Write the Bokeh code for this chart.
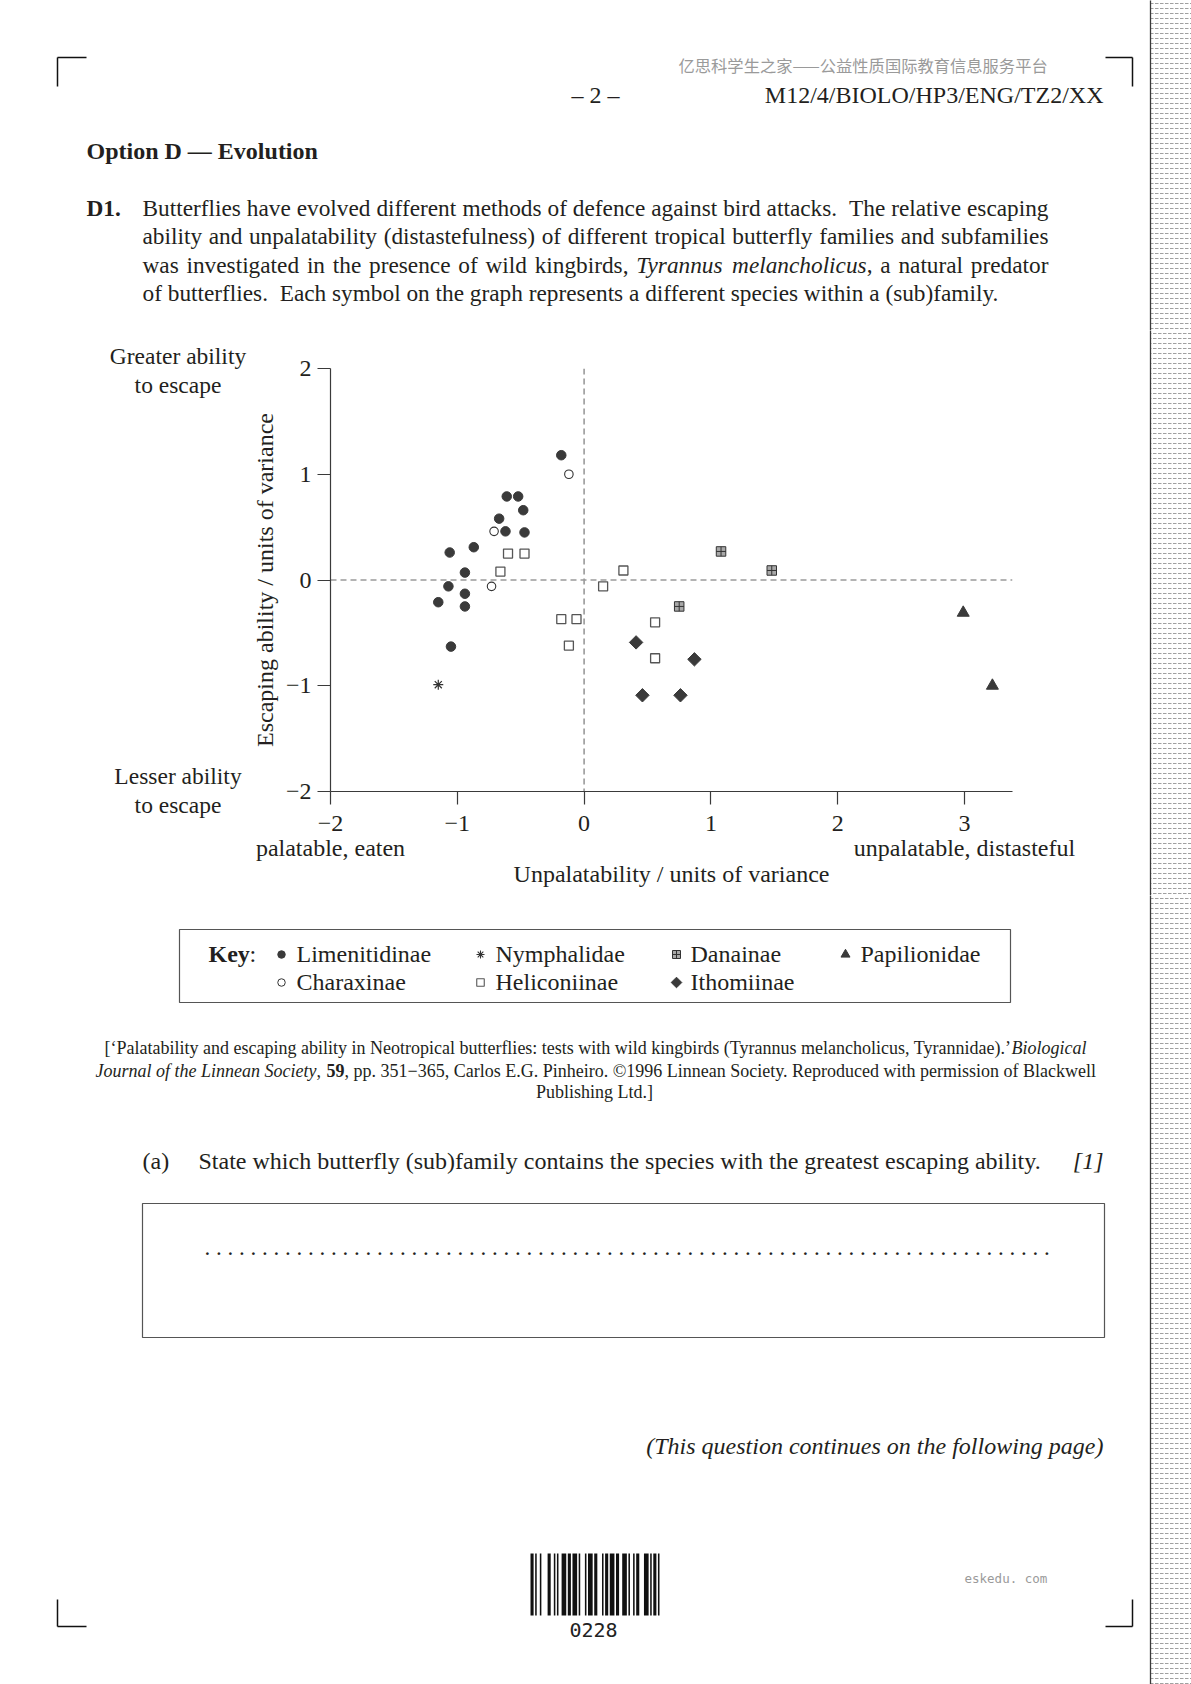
import math
from bokeh.plotting import figure
from bokeh.layouts import column, row
from bokeh.models import Span, FixedTicker, LinearAxis, Range1d
from bokeh.core.properties import value
from bokeh.embed import file_html
from bokeh.resources import INLINE

# ---------------- data ----------------
lim_x = [-0.18, -0.61, -0.52, -0.48, -0.67, -0.62, -0.47, -0.87, -1.06, -0.94, -1.07, -0.94, -1.15, -0.94, -1.05]
lim_y = [1.18, 0.79, 0.79, 0.66, 0.58, 0.46, 0.45, 0.31, 0.26, 0.07, -0.06, -0.13, -0.21, -0.25, -0.63]
cha_x = [-0.12, -0.71, -0.73]
cha_y = [1.00, 0.46, -0.06]
hel_x = [-0.60, -0.47, -0.66, 0.31, 0.15, -0.18, -0.06, -0.12, 0.56, 0.56]
hel_y = [0.25, 0.25, 0.08, 0.09, -0.06, -0.37, -0.37, -0.62, -0.40, -0.74]
nym_x = [-1.15]
nym_y = [-0.99]
dan_x = [1.08, 1.48, 0.75]
dan_y = [0.27, 0.09, -0.25]
ith_x = [0.41, 0.87, 0.46, 0.76]
ith_y = [-0.59, -0.75, -1.09, -1.09]
pap_x = [2.99, 3.22]
pap_y = [-0.31, -1.00]

x_ticks = [-2, -1, 0, 1, 2, 3]
y_ticks = [-2, -1, 0, 1, 2]
tick_text = {-2: "\u22122", -1: "\u22121"}
x_end_ticks = [-2, 3]
x_end_text = {-2: "palatable, eaten", 3: "unpalatable, distasteful"}
x_title = "Unpalatability / units of variance"
y_title = "Escaping ability / units of variance"
y_end_text = [("Greater ability", "to escape"), ("Lesser ability", "to escape")]

key_row1 = ["Limenitidinae", "Nymphalidae", "Danainae", "Papilionidae"]
key_row2 = ["Charaxinae", "Heliconiinae", "Ithomiinae"]

# ---------------- page geometry (page px == canvas px) ----------------
PW, PH = 1191, 1684
TOP_H = 330            # top block: y 0..330
MID_H = 565            # middle row: y 330..895
BOT_H = PH - TOP_H - MID_H
LEFT_W = 247
RIGHT_W = 43
PLOT_W = PW - LEFT_W - RIGHT_W

INK = "#231f20"
SERIF = "Liberation Serif"
DARK = "#3a3a3a"
FS = 24      # general text size
PS = 23.3    # paragraph text size
NB = "\u00a0 "  # double space after full stop

# Times-compatible advance widths (em) used to justify the stem lines
RG = {' ': .25, 'a': .444, 'b': .5, 'c': .444, 'd': .5, 'e': .444, 'f': .333, 'g': .5, 'h': .5,
      'i': .278, 'j': .278, 'k': .5, 'l': .278, 'm': .778, 'n': .5, 'o': .5, 'p': .5, 'q': .5,
      'r': .333, 's': .389, 't': .278, 'u': .5, 'v': .5, 'w': .722, 'x': .5, 'y': .5, 'z': .444,
      '.': .25, ',': .25, '(': .333, ')': .333, 'B': .667, 'T': .611, 'D': .722, 'E': .611}
IT = {' ': .25, 'a': .5, 'b': .5, 'c': .444, 'd': .5, 'e': .444, 'f': .278, 'g': .5, 'h': .5,
      'i': .278, 'k': .444, 'l': .278, 'm': .722, 'n': .5, 'o': .5, 'p': .5, 'r': .389, 's': .389,
      't': .278, 'u': .5, 'y': .444, 'T': .556, ',': .25}


def canvas(x0, x1, y0, y1):
    f = figure(width=x1 - x0, height=y1 - y0, x_range=Range1d(x0, x1), y_range=Range1d(y1, y0),
               output_backend="svg", toolbar_location=None, min_border=0,
               x_axis_type=None, y_axis_type=None, frame_align=False,
               background_fill_color="white", border_fill_color="white")
    f.outline_line_color = None
    return f


def txt(f, X, Y, s, size=FS, style="normal", align="left", baseline="middle", color=INK,
        font=SERIF, angle=0.0):
    f.text(x=[X], y=[Y], text=[s], text_font=value(font), text_font_size=value(f"{size}px"),
           text_font_style=style, text_align=align, text_baseline=baseline, text_color=color,
           angle=angle)


def word_width(s, style, size):
    table = IT if style == "italic" else RG
    return sum(table.get(c, 0.5) for c in s) * size


def tokens(s, style="normal"):
    out, gap = [], 0
    for part in s.split(" "):
        if part == "":
            gap += 1
            continue
        out.append((part, style, gap + 1 if out else 0))
        gap = 0
    return out


def justify(f, Y, toks, x0, x1, size=PS):
    widths = [word_width(t, st, size) for t, st, g in toks]
    weights = [g for t, st, g in toks[1:]]
    natural = sum(widths) + sum(weights) * 0.25 * size
    extra = (x1 - x0 - natural) / max(sum(weights), 1)
    x = x0
    for k, (t, st, g) in enumerate(toks):
        if k > 0:
            x += g * (0.25 * size + extra)
        txt(f, x, Y, t, size=size, style=st)
        x += widths[k]


def seg(f, X1, Y1, X2, Y2, lw=1.5, color="#111111"):
    f.segment(x0=[X1], y0=[Y1], x1=[X2], y1=[Y2], line_color=color, line_width=lw)


def rect_outline(f, X1, Y1, X2, Y2, lw=1.2, color="#555555"):
    f.quad(left=[X1], right=[X2], top=[Y1], bottom=[Y2], fill_color=None, line_color=color, line_width=lw)


def strip(f, y0, y1):
    f.quad(left=[1150], right=[1200], top=[y0 - 5], bottom=[y1 + 5], fill_color="white",
           line_color="#3a3a3a", line_width=1.3, hatch_pattern="horizontal_dash",
           hatch_color="#a0a0a0", hatch_scale=5, hatch_weight=1)


# ================= top block =================
top = canvas(0, PW, 0, TOP_H)
strip(top, 0, TOP_H)
seg(top, 57, 57, 86, 57); seg(top, 57, 57, 57, 86)
seg(top, 1105, 57, 1132, 57); seg(top, 1132, 57, 1132, 86)
txt(top, 678, 64, "亿思科学生之家——公益性质国际教育信息服务平台", size=16.3, color="#9a9a9a", font="Noto Sans CJK SC")
txt(top, 595, 94, "\u2013 2 \u2013", align="center")
txt(top, 1103, 94, "M12/4/BIOLO/HP3/ENG/TZ2/XX", align="right")
txt(top, 86, 150, "Option D \u2014 Evolution", style="bold")
txt(top, 86, 207, "D1.", style="bold", size=PS)
justify(top, 207, tokens("Butterflies have evolved different methods of defence against bird attacks.  The relative escaping"), 142, 1048)
justify(top, 235, tokens("ability and unpalatability (distastefulness) of different tropical butterfly families and subfamilies"), 142, 1048)
line3 = (tokens("was investigated in the presence of wild kingbirds,")
         + [("Tyrannus", "italic", 1), ("melancholicus", "italic", 1), (",", "normal", 0)]
         + tokens("a natural predator")[:1] and
         tokens("was investigated in the presence of wild kingbirds,")
         + [("Tyrannus", "italic", 1), ("melancholicus", "italic", 1), (",", "normal", 0),
            ("a", "normal", 1), ("natural", "normal", 1), ("predator", "normal", 1)])
justify(top, 264, line3, 142, 1048)
txt(top, 142, 292, "of butterflies." + NB + "Each symbol on the graph represents a different species within a (sub)family.", size=PS)

# ================= middle row =================
left = canvas(0, LEFT_W, TOP_H, TOP_H + MID_H)
txt(left, 177.5, 355, y_end_text[0][0], align="center", size=23.5)
txt(left, 177.5, 384, y_end_text[0][1], align="center", size=23.5)
txt(left, 177.5, 775, y_end_text[1][0], align="center", size=23.5)
txt(left, 177.5, 804, y_end_text[1][1], align="center", size=23.5)

right = canvas(PW - RIGHT_W, PW, TOP_H, TOP_H + MID_H)
strip(right, TOP_H, TOP_H + MID_H)

FL = 330 - LEFT_W
FT = 38
FH = 423
FW = 682
XS = 126.8
XMIN, XMAX = -2.0, -2.0 + FW / XS
p = figure(width=PLOT_W, height=MID_H, x_range=(XMIN, XMAX), y_range=(-2, 2),
           output_backend="svg", toolbar_location=None, frame_align=False,
           min_border_left=FL, min_border_right=PLOT_W - FL - FW,
           min_border_top=FT, min_border_bottom=MID_H - FT - FH,
           background_fill_color="white", border_fill_color="white")
p.outline_line_color = None
p.grid.visible = False


def style_axis(ax):
    ax.axis_line_color = "#3a3a3a"
    ax.axis_line_width = 1.2
    ax.major_tick_line_color = "#3a3a3a"
    ax.major_tick_line_width = 1.2
    ax.major_tick_out = 13
    ax.major_tick_in = 0
    ax.minor_tick_line_color = None
    ax.major_label_text_font = SERIF
    ax.major_label_text_font_size = f"{FS}px"
    ax.major_label_text_color = INK
    ax.axis_label_text_font = SERIF
    ax.axis_label_text_font_size = f"{FS}px"
    ax.axis_label_text_font_style = "normal"
    ax.axis_label_text_color = INK


xa, ya = p.xaxis[0], p.yaxis[0]
style_axis(xa)
style_axis(ya)
xa.ticker = FixedTicker(ticks=x_ticks)
ya.ticker = FixedTicker(ticks=y_ticks)
xa.major_label_overrides = tick_text
ya.major_label_overrides = tick_text
xa.major_label_standoff = 11
ya.major_label_standoff = 6
ya.axis_label = y_title
ya.axis_label_standoff = 5

xa2 = LinearAxis(ticker=FixedTicker(ticks=x_end_ticks), major_label_overrides=x_end_text,
                 axis_label=x_title)
style_axis(xa2)
xa2.axis_line_color = None
xa2.major_tick_line_color = None
xa2.major_tick_out = 0
xa2.major_label_standoff = 1
xa2.axis_label_standoff = -3
p.add_layout(xa2, "below")

p.add_layout(Span(location=0, dimension="width", line_color="#9a9a9a", line_width=1.6,
                  line_dash="6 4", level="underlay"))
p.add_layout(Span(location=0, dimension="height", line_color="#9a9a9a", line_width=1.6,
                  line_dash="6 4", level="underlay"))

p.scatter(lim_x, lim_y, marker="circle", size=9.5, fill_color=DARK, line_color=DARK)
p.scatter(cha_x, cha_y, marker="circle", size=8.5, fill_color="white", line_color="#333333", line_width=1.1)
p.scatter(hel_x, hel_y, marker="square", size=9, fill_color="white", line_color="#555555", line_width=1.3)
p.scatter(nym_x, nym_y, marker="asterisk", size=10, line_color="#333333", line_width=1.2)
p.scatter(dan_x, dan_y, marker="square_cross", size=9.5, fill_color="#a8a8a8", line_color="#333333", line_width=1)
p.scatter(ith_x, ith_y, marker="square", angle=math.pi / 4, size=9.5, fill_color=DARK, line_color=DARK)
p.scatter(pap_x, pap_y, marker="triangle", size=12, fill_color=DARK, line_color=DARK)

# ================= bottom block =================
Y0 = TOP_H + MID_H
bot = canvas(0, PW, Y0, PH)
strip(bot, Y0, PH)
seg(bot, 57, 1599, 57, 1626); seg(bot, 57, 1626, 86, 1626)
seg(bot, 1132, 1599, 1132, 1626); seg(bot, 1105, 1626, 1132, 1626)

# key
rect_outline(bot, 179, 929, 1010, 1002)
txt(bot, 208, 953, "Key", style="bold")
txt(bot, 249, 953, ":")
sym_x = [281, 480, 676, 845]
txt_x = [296, 495, 690, 860]
r1y, r2y = 953, 981
bot.scatter([sym_x[0]], [r1y + 1], marker="circle", size=7.5, fill_color=DARK, line_color=DARK)
bot.scatter([sym_x[1]], [r1y + 1], marker="asterisk", size=8, line_color="#333333", line_width=1.1)
bot.scatter([sym_x[2]], [r1y + 1], marker="square_cross", size=8, fill_color="#a8a8a8", line_color="#333333", line_width=1)
bot.scatter([sym_x[3]], [r1y + 1], marker="triangle", size=9, fill_color=DARK, line_color=DARK)
bot.scatter([sym_x[0]], [r2y + 1], marker="circle", size=7.5, fill_color="white", line_color="#333333", line_width=1)
bot.scatter([sym_x[1]], [r2y + 1], marker="square", size=7.5, fill_color="white", line_color="#555555", line_width=1.1)
bot.scatter([sym_x[2]], [r2y + 1], marker="square", angle=math.pi / 4, size=7.5, fill_color=DARK, line_color=DARK)
for i, name in enumerate(key_row1):
    txt(bot, txt_x[i], r1y, name)
for i, name in enumerate(key_row2):
    txt(bot, txt_x[i], r2y, name)

# citation
CS = 18
txt(bot, 104, 1047, "[\u2018Palatability and escaping ability in Neotropical butterflies: tests with wild kingbirds (Tyrannus melancholicus, Tyrannidae).\u2019", size=CS)
txt(bot, 1086, 1047, "Biological", size=CS, style="italic", align="right")
txt(bot, 95, 1070, "Journal of the Linnean Society", size=CS, style="italic")
txt(bot, 316, 1070, ",", size=CS)
txt(bot, 326, 1070, "59", size=CS, style="bold")
txt(bot, 344, 1070, ", pp. 351\u2212365, Carlos E.G. Pinheiro. \u00a91996 Linnean Society. Reproduced with permission of Blackwell", size=CS)
txt(bot, 594, 1091, "Publishing Ltd.]", size=CS, align="center")

# part (a)
txt(bot, 142, 1160, "(a)")
txt(bot, 198, 1160, "State which butterfly (sub)family contains the species with the greatest escaping ability.")
txt(bot, 1103, 1160, "[1]", style="italic", align="right")
rect_outline(bot, 142, 1203, 1104, 1337)
txt(bot, 204, 1247, " ".join(["."] * 74), baseline="alphabetic", size=23)

txt(bot, 1103, 1445, "(This question continues on the following page)", style="italic", align="right")

# barcode
bar_pattern = "11010010000110010100111011011101000101110110001011011101100111010010110001110101101"
mod = (659 - 530) / len(bar_pattern)
bl, br = [], []
i = 0
while i < len(bar_pattern):
    if bar_pattern[i] == "1":
        j = i
        while j < len(bar_pattern) and bar_pattern[j] == "1":
            j += 1
        bl.append(530 + i * mod)
        br.append(530 + j * mod)
        i = j
    else:
        i += 1
bot.quad(left=bl, right=br, top=[1553] * len(bl), bottom=[1615] * len(bl), fill_color="#111111", line_color=None)
txt(bot, 593, 1629, "0228", size=20, align="center", font="DejaVu Sans Mono", color="#222222")
txt(bot, 964, 1578, "eskedu. com", size=12.5, font="DejaVu Sans Mono", color="#9a9a9a")

layout = column(top, row(left, p, right), bot)
open("out.html", "w").write(file_html(layout, INLINE))
